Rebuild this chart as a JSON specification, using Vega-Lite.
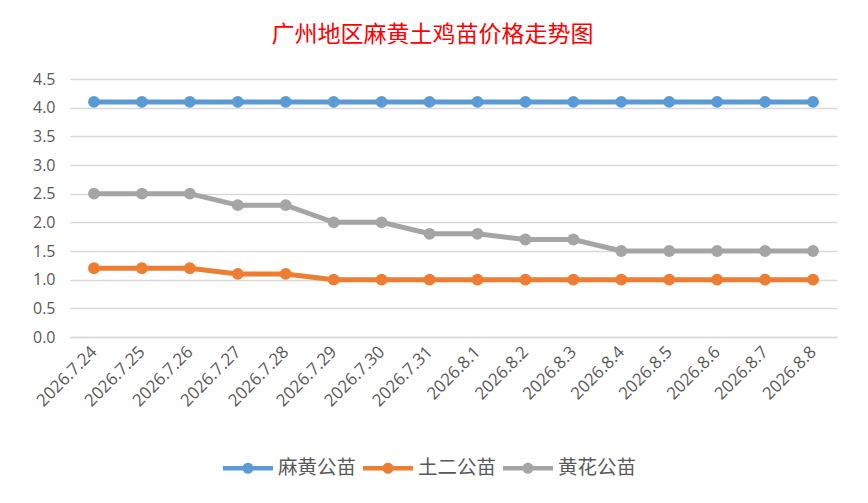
{
  "$schema": "https://vega.github.io/schema/vega-lite/v6.json",
  "width": 767,
  "height": 258,
  "autosize": {"type": "none"},
  "padding": {"left": 70, "top": 79, "right": 31, "bottom": 166},
  "background": "white",
  "title": {
    "text": "广州地区麻黄土鸡苗价格走势图",
    "color": "#FF0000",
    "font": "Noto Sans CJK SC",
    "fontSize": 23,
    "fontWeight": "normal",
    "anchor": "middle",
    "dx": -21,
    "offset": 24
  },
  "data": {
    "values": [
      {"date": "2026.7.24", "series": "麻黄公苗", "price": 4.1},
      {"date": "2026.7.25", "series": "麻黄公苗", "price": 4.1},
      {"date": "2026.7.26", "series": "麻黄公苗", "price": 4.1},
      {"date": "2026.7.27", "series": "麻黄公苗", "price": 4.1},
      {"date": "2026.7.28", "series": "麻黄公苗", "price": 4.1},
      {"date": "2026.7.29", "series": "麻黄公苗", "price": 4.1},
      {"date": "2026.7.30", "series": "麻黄公苗", "price": 4.1},
      {"date": "2026.7.31", "series": "麻黄公苗", "price": 4.1},
      {"date": "2026.8.1", "series": "麻黄公苗", "price": 4.1},
      {"date": "2026.8.2", "series": "麻黄公苗", "price": 4.1},
      {"date": "2026.8.3", "series": "麻黄公苗", "price": 4.1},
      {"date": "2026.8.4", "series": "麻黄公苗", "price": 4.1},
      {"date": "2026.8.5", "series": "麻黄公苗", "price": 4.1},
      {"date": "2026.8.6", "series": "麻黄公苗", "price": 4.1},
      {"date": "2026.8.7", "series": "麻黄公苗", "price": 4.1},
      {"date": "2026.8.8", "series": "麻黄公苗", "price": 4.1},
      {"date": "2026.7.24", "series": "土二公苗", "price": 1.2},
      {"date": "2026.7.25", "series": "土二公苗", "price": 1.2},
      {"date": "2026.7.26", "series": "土二公苗", "price": 1.2},
      {"date": "2026.7.27", "series": "土二公苗", "price": 1.1},
      {"date": "2026.7.28", "series": "土二公苗", "price": 1.1},
      {"date": "2026.7.29", "series": "土二公苗", "price": 1.0},
      {"date": "2026.7.30", "series": "土二公苗", "price": 1.0},
      {"date": "2026.7.31", "series": "土二公苗", "price": 1.0},
      {"date": "2026.8.1", "series": "土二公苗", "price": 1.0},
      {"date": "2026.8.2", "series": "土二公苗", "price": 1.0},
      {"date": "2026.8.3", "series": "土二公苗", "price": 1.0},
      {"date": "2026.8.4", "series": "土二公苗", "price": 1.0},
      {"date": "2026.8.5", "series": "土二公苗", "price": 1.0},
      {"date": "2026.8.6", "series": "土二公苗", "price": 1.0},
      {"date": "2026.8.7", "series": "土二公苗", "price": 1.0},
      {"date": "2026.8.8", "series": "土二公苗", "price": 1.0},
      {"date": "2026.7.24", "series": "黄花公苗", "price": 2.5},
      {"date": "2026.7.25", "series": "黄花公苗", "price": 2.5},
      {"date": "2026.7.26", "series": "黄花公苗", "price": 2.5},
      {"date": "2026.7.27", "series": "黄花公苗", "price": 2.3},
      {"date": "2026.7.28", "series": "黄花公苗", "price": 2.3},
      {"date": "2026.7.29", "series": "黄花公苗", "price": 2.0},
      {"date": "2026.7.30", "series": "黄花公苗", "price": 2.0},
      {"date": "2026.7.31", "series": "黄花公苗", "price": 1.8},
      {"date": "2026.8.1", "series": "黄花公苗", "price": 1.8},
      {"date": "2026.8.2", "series": "黄花公苗", "price": 1.7},
      {"date": "2026.8.3", "series": "黄花公苗", "price": 1.7},
      {"date": "2026.8.4", "series": "黄花公苗", "price": 1.5},
      {"date": "2026.8.5", "series": "黄花公苗", "price": 1.5},
      {"date": "2026.8.6", "series": "黄花公苗", "price": 1.5},
      {"date": "2026.8.7", "series": "黄花公苗", "price": 1.5},
      {"date": "2026.8.8", "series": "黄花公苗", "price": 1.5}
    ]
  },
  "encoding": {
    "x": {
      "field": "date",
      "type": "ordinal",
      "sort": null,
      "title": null,
      "scale": {"type": "point", "padding": 0.5},
      "axis": {
        "labelAngle": -45,
        "labelAlign": "right",
        "labelBaseline": "middle",
        "labelPadding": 12,
        "labelFontSize": 17,
        "ticks": false,
        "grid": false,
        "domainColor": "#D9D9D9",
        "domainWidth": 1.3
      }
    },
    "y": {
      "field": "price",
      "type": "quantitative",
      "title": null,
      "scale": {"domain": [0, 4.5], "nice": false},
      "axis": {
        "values": [0, 0.5, 1, 1.5, 2, 2.5, 3, 3.5, 4, 4.5],
        "format": ".1f",
        "domain": false,
        "ticks": false,
        "labelPadding": 15,
        "gridColor": "#D9D9D9",
        "gridWidth": 1.3
      }
    },
    "color": {
      "field": "series",
      "type": "nominal",
      "scale": {
        "domain": ["麻黄公苗", "土二公苗", "黄花公苗"],
        "range": ["#5B9BD5", "#ED7D31", "#A5A5A5"]
      },
      "legend": {
        "title": null,
        "orient": "none",
        "direction": "horizontal",
        "legendX": 153,
        "legendY": 364,
        "symbolType": "M-1,-0.09L1,-0.09L1,0.09L-1,0.09Z M0.22,0A0.22,0.22,0,1,1,-0.22,0A0.22,0.22,0,1,1,0.22,0Z",
        "symbolSize": 2500,
        "symbolStrokeWidth": 0,
        "symbolOpacity": 1,
        "labelFont": "Noto Sans CJK SC",
        "labelFontSize": 19.5,
        "labelColor": "#595959",
        "labelOffset": 5,
        "columnPadding": 6
      }
    }
  },
  "layer": [
    {
      "mark": {"type": "line", "strokeWidth": 5}
    },
    {
      "mark": {"type": "point", "filled": true, "opacity": 1, "size": 140}
    }
  ],
  "config": {
    "view": {"stroke": null},
    "axis": {
      "labelFont": "Open Sans",
      "labelFontSize": 16,
      "labelColor": "#595959"
    }
  }
}
